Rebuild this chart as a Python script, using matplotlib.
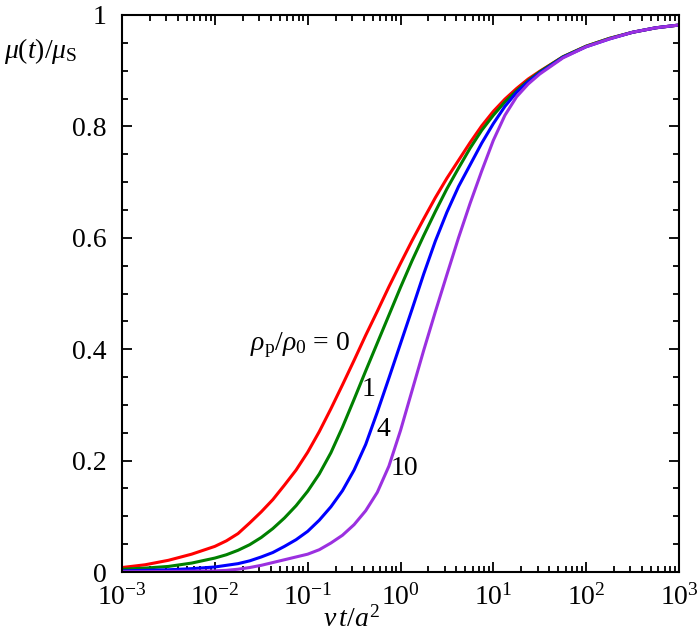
import math
import matplotlib
matplotlib.use("Agg")
import matplotlib.pyplot as plt
from matplotlib.ticker import LogLocator, FixedLocator, NullFormatter, FuncFormatter, MultipleLocator

plt.rcParams['font.family'] = ['Liberation Serif', 'DejaVu Serif']
plt.rcParams['mathtext.fontset'] = 'custom'
plt.rcParams['mathtext.rm'] = 'Liberation Serif'
plt.rcParams['mathtext.it'] = 'Liberation Serif:italic'
plt.rcParams['mathtext.bf'] = 'Liberation Serif:bold'
plt.rcParams['mathtext.fallback'] = 'stix'

# log10 of nu t / a^2
log_x = [-3, -2.75, -2.5, -2.25, -2, -1.875, -1.75, -1.625, -1.5, -1.375, -1.25, -1.125,
         -1, -0.875, -0.75, -0.625, -0.5, -0.375, -0.25, -0.125, 0, 0.125, 0.25, 0.375,
         0.5, 0.625, 0.75, 0.875, 1, 1.125, 1.25, 1.375, 1.5, 1.75, 2, 2.25, 2.5, 2.75, 3]

mu_ratio0 = [0.008, 0.013, 0.021, 0.032, 0.046, 0.056, 0.069, 0.088, 0.108, 0.130, 0.156, 0.183,
             0.215, 0.252, 0.293, 0.336, 0.380, 0.425, 0.468, 0.512, 0.554, 0.595, 0.634, 0.672,
             0.707, 0.739, 0.771, 0.801, 0.827, 0.849, 0.868, 0.885, 0.899, 0.925, 0.944, 0.958,
             0.969, 0.977, 0.982]
mu_ratio1 = [0.005, 0.007, 0.010, 0.016, 0.025, 0.031, 0.039, 0.049, 0.062, 0.078, 0.097, 0.119,
             0.145, 0.176, 0.214, 0.260, 0.310, 0.361, 0.411, 0.461, 0.511, 0.559, 0.604, 0.647,
             0.688, 0.725, 0.761, 0.793, 0.820, 0.844, 0.864, 0.882, 0.898, 0.925, 0.944, 0.958,
             0.969, 0.977, 0.982]
mu_ratio4 = [0.002, 0.003, 0.004, 0.006, 0.009, 0.012, 0.015, 0.020, 0.027, 0.035, 0.046, 0.058,
             0.073, 0.093, 0.117, 0.146, 0.183, 0.229, 0.287, 0.348, 0.410, 0.472, 0.535, 0.594,
             0.646, 0.692, 0.731, 0.770, 0.805, 0.836, 0.861, 0.880, 0.896, 0.924, 0.943, 0.957,
             0.969, 0.977, 0.982]
mu_ratio10 = [0.0005, 0.0007, 0.001, 0.0015, 0.002, 0.003, 0.005, 0.008, 0.012, 0.017, 0.022, 0.027,
              0.032, 0.040, 0.052, 0.066, 0.085, 0.110, 0.143, 0.190, 0.254, 0.326, 0.398, 0.467,
              0.534, 0.600, 0.662, 0.720, 0.775, 0.820, 0.853, 0.876, 0.894, 0.923, 0.943, 0.957,
              0.969, 0.977, 0.982]

series = [mu_ratio0, mu_ratio1, mu_ratio4, mu_ratio10]
colors = ['#ff0000', '#008000', '#0000ff', '#9b30e0']
y_ticks = [0, 0.2, 0.4, 0.6, 0.8, 1]
y_tick_labels = ['0', '0.2', '0.4', '0.6', '0.8', '1']

x_vals = [10 ** v for v in log_x]

fig = plt.figure(figsize=(6.99, 6.40), dpi=100)
ax = fig.add_axes([122/699, 1 - 572/640, (679-122)/699, (572-15)/640])

for ys, c in zip(series, colors):
    ax.plot(x_vals, ys, color=c, lw=2.2, solid_capstyle='round', solid_joinstyle='round')

ax.set_xscale('log')
ax.set_xlim(1e-3, 1e3)
ax.set_ylim(0, 1)

ax.xaxis.set_major_locator(LogLocator(base=10, numticks=20))
ax.xaxis.set_minor_locator(LogLocator(base=10, subs=range(2, 10), numticks=20))
ax.xaxis.set_minor_formatter(NullFormatter())
ax.xaxis.set_major_formatter(FuncFormatter(lambda v, p: r'$\mathregular{10^{%d}}$' % round(math.log10(v))))

ax.yaxis.set_major_locator(FixedLocator(y_ticks))
ax.set_yticklabels(y_tick_labels)
ax.yaxis.set_minor_locator(MultipleLocator(0.05))

for s in ax.spines.values():
    s.set_linewidth(1.5)

ax.tick_params(which='both', direction='in', top=True, right=True, width=1.3)
ax.tick_params(which='major', length=7.5, labelsize=20)
ax.tick_params(axis='x', which='major', pad=9)
ax.tick_params(axis='y', which='major', pad=11)
ax.tick_params(which='minor', length=4)

fig.text(41/699, 1 - 58/640, r'$\mu(t)/\mu_{\mathrm{S}}$', fontsize=20, ha='center', va='baseline')
fig.text(351/699, 1 - 627/640, r'$\nu\, t/a^2$', fontsize=20, ha='center', va='baseline')

fig.text(300/699, 1 - 350/640, r'$\rho_{\mathrm{p}}/\rho_0$' + ' = 0', fontsize=20, ha='center', va='baseline')
fig.text(369/699, 1 - 396/640, '1', fontsize=20, ha='center', va='baseline')
fig.text(383/699, 1 - 436/640, '4', fontsize=20, ha='center', va='baseline')
fig.text(404/699, 1 - 475/640, '10', fontsize=20, ha='center', va='baseline')

fig.savefig('out.png', dpi=100)
